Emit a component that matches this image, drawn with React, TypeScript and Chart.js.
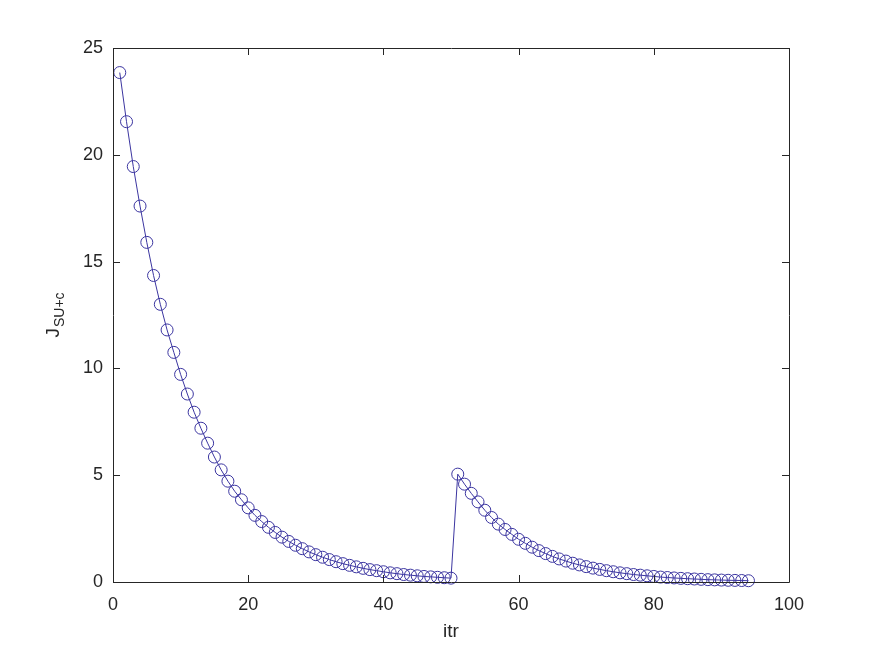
import React, { useEffect, useRef } from "react";
import { Chart, registerables } from "chart.js";

Chart.register(...registerables);

const iterations: number[] = Array.from({ length: 94 }, (_, i) => i + 1);

const costValues: number[] = [
  23.85, 21.55, 19.45, 17.6, 15.9, 14.35, 13.0, 11.8, 10.75, 9.72,
  8.8, 7.95, 7.2, 6.5, 5.85, 5.25, 4.72, 4.25, 3.85, 3.47,
  3.12, 2.83, 2.56, 2.32, 2.1, 1.9, 1.72, 1.56, 1.41, 1.28,
  1.16, 1.05, 0.95, 0.86, 0.78, 0.71, 0.64, 0.58, 0.53, 0.48,
  0.43, 0.39, 0.35, 0.32, 0.29, 0.26, 0.24, 0.22, 0.2, 0.18,
  5.05, 4.58, 4.15, 3.75, 3.36, 3.02, 2.71, 2.46, 2.23, 2.0,
  1.81, 1.63, 1.47, 1.33, 1.2, 1.08, 0.98, 0.88, 0.8, 0.72,
  0.65, 0.59, 0.53, 0.48, 0.43, 0.39, 0.35, 0.32, 0.29, 0.26,
  0.23, 0.21, 0.19, 0.17, 0.155, 0.14, 0.125, 0.11, 0.1, 0.09,
  0.08, 0.075, 0.07, 0.06,
];

const xTicks: number[] = [0, 20, 40, 60, 80, 100];
const yTicks: number[] = [0, 5, 10, 15, 20, 25];

const xLabel = "itr";
const yLabelMain = "J";
const yLabelSub = "SU+c";

const FONT = "'Liberation Sans', Arial, Helvetica, sans-serif";
const AXIS_COLOR = "#262626";
const LINE_COLOR = "#3b35a0";

const boxPlugin = {
  id: "matlabBox",
  afterDatasetsDraw(chart: any) {
    const { ctx, chartArea, scales } = chart;
    const { left, right, top, bottom } = chartArea;
    const tl = 7;
    ctx.save();
    ctx.strokeStyle = AXIS_COLOR;
    ctx.lineWidth = 1;
    ctx.beginPath();
    ctx.rect(Math.round(left) + 0.5, Math.round(top) + 0.5, Math.round(right - left), Math.round(bottom - top));
    ctx.stroke();
    ctx.beginPath();
    for (const v of xTicks) {
      const x = Math.round(scales.x.getPixelForValue(v)) + 0.5;
      ctx.moveTo(x, bottom);
      ctx.lineTo(x, bottom - tl);
      ctx.moveTo(x, top);
      ctx.lineTo(x, top + tl);
    }
    for (const v of yTicks) {
      const y = Math.round(scales.y.getPixelForValue(v)) + 0.5;
      ctx.moveTo(left, y);
      ctx.lineTo(left + tl, y);
      ctx.moveTo(right, y);
      ctx.lineTo(right - tl, y);
    }
    ctx.stroke();

    // x label
    ctx.fillStyle = AXIS_COLOR;
    ctx.font = `19px ${FONT}`;
    ctx.textAlign = "center";
    ctx.textBaseline = "middle";
    ctx.fillText(xLabel, (left + right) / 2, 632);

    // y label with subscript
    ctx.translate(62, (top + bottom) / 2);
    ctx.rotate(-Math.PI / 2);
    ctx.font = `19px ${FONT}`;
    const wMain = ctx.measureText(yLabelMain).width;
    ctx.font = `14px ${FONT}`;
    const wSub = ctx.measureText(yLabelSub).width;
    const total = wMain + wSub + 1;
    ctx.textAlign = "left";
    ctx.textBaseline = "alphabetic";
    ctx.font = `19px ${FONT}`;
    ctx.fillText(yLabelMain, -total / 2, -3);
    ctx.font = `14px ${FONT}`;
    ctx.fillText(yLabelSub, -total / 2 + wMain + 1, 2);
    ctx.restore();
  },
};

export default function App() {
  const ref = useRef<HTMLCanvasElement | null>(null);

  useEffect(() => {
    document.body.style.margin = "0";
    const canvas = ref.current;
    if (!canvas) return;
    const points = iterations.map((x, i) => ({ x, y: costValues[i] }));
    const chart = new Chart(canvas, {
      type: "scatter",
      data: {
        datasets: [
          {
            data: points,
            showLine: true,
            borderColor: LINE_COLOR,
            borderWidth: 1,
            pointRadius: 6,
            pointHoverRadius: 6,
            pointBorderWidth: 1,
            pointBorderColor: LINE_COLOR,
            pointBackgroundColor: "rgba(0,0,0,0)",
            pointStyle: "circle",
            clip: false as any,
          },
        ],
      },
      options: {
        responsive: false,
        animation: false,
        events: [],
        layout: { padding: { top: 48, right: 83, left: 0, bottom: 0 } },
        plugins: {
          legend: { display: false },
          tooltip: { enabled: false },
        },
        scales: {
          x: {
            type: "linear",
            min: 0,
            max: 100,
            grid: { display: false, drawTicks: false },
            border: { display: false },
            ticks: {
              stepSize: 20,
              padding: 12,
              color: AXIS_COLOR,
              font: { family: FONT, size: 18 },
              maxRotation: 0,
            },
            afterFit: (s: any) => {
              s.height = 72;
            },
          },
          y: {
            type: "linear",
            min: 0,
            max: 25,
            grid: { display: false, drawTicks: false },
            border: { display: false },
            ticks: {
              stepSize: 5,
              padding: 10,
              color: AXIS_COLOR,
              font: { family: FONT, size: 18 },
            },
            afterFit: (s: any) => {
              s.width = 113;
            },
          },
        },
      },
      plugins: [boxPlugin],
    });
    return () => chart.destroy();
  }, []);

  return (
    <div style={{ width: 872, height: 654, background: "#fff" }}>
      <canvas ref={ref} width={872} height={654} style={{ display: "block" }} />
    </div>
  );
}
